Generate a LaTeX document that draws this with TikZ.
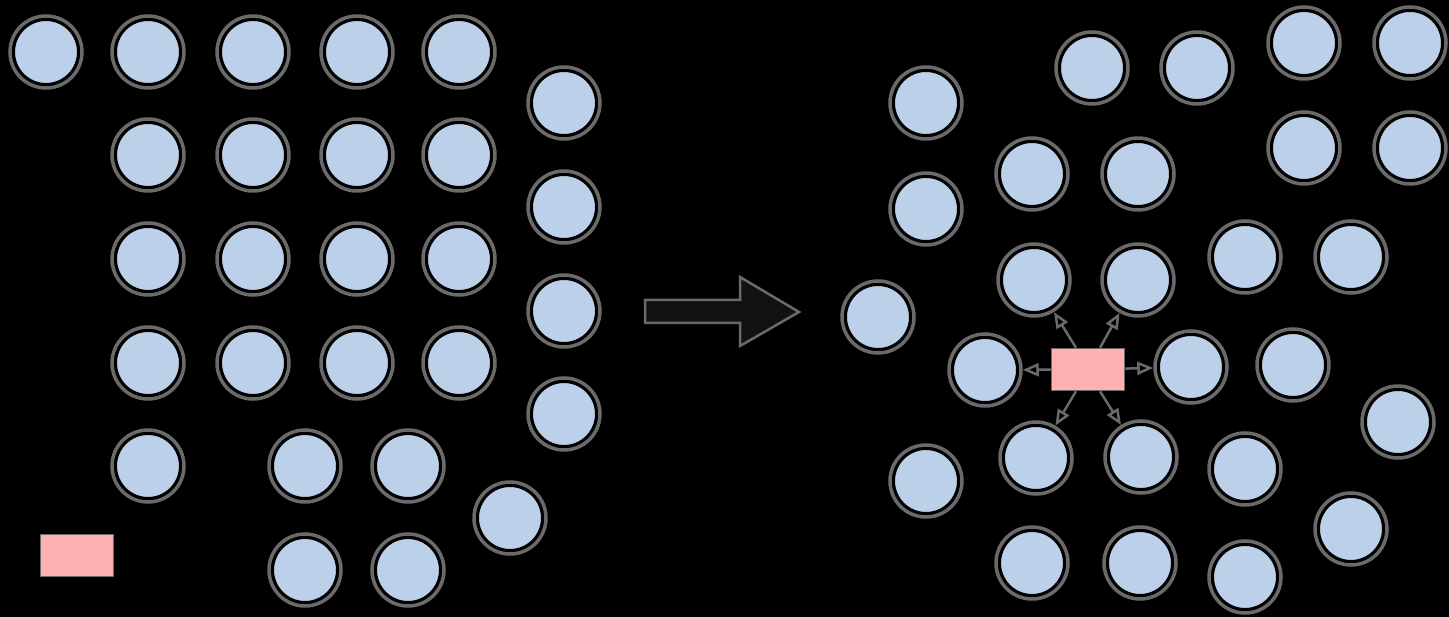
\documentclass[tikz,border=0pt]{standalone}
\usetikzlibrary{arrows.meta}
\definecolor{ballblue}{HTML}{BCD0EA}
\definecolor{ringgray}{HTML}{6A6A6A}
\definecolor{agentpink}{HTML}{FFB0B0}
\definecolor{arrowfill}{HTML}{111111}
\tikzset{
  ball/.style={circle, minimum size=72pt, inner sep=0pt, fill=ballblue, draw=ringgray, line width=3.5pt,
    path picture={\draw[black, line width=6pt] (path picture bounding box.center) circle (34pt);}},
  agent/.style={rectangle, minimum width=73pt, minimum height=42pt, inner sep=0pt, fill=agentpink, draw=ringgray, line width=1.5pt},
  link/.style={draw=ringgray, line width=2.5pt, -{Triangle[open, length=16pt, width=13pt]}},
  bigarrow/.style={fill=arrowfill, draw=ringgray, line width=2.5pt, line join=miter}
}
\begin{document}
\begin{tikzpicture}[x=1pt, y=-1pt]
\fill[black] (0,0) rectangle (1449,617);
\useasboundingbox (0,0) rectangle (1449,617);
% left side
\foreach \x [count=\i] in {46,148,253,357,459} \node[ball] (la\i) at (\x,52) {};
\foreach \y [count=\i] in {103,207,311,414} \node[ball] (lf\i) at (564,\y) {};
\foreach \x [count=\i] in {148,253,357,459} {
  \node[ball] (lb\i) at (\x,155) {};
  \node[ball] (lc\i) at (\x,259) {};
  \node[ball] (ld\i) at (\x,363) {};
}
\node[ball] (le1) at (148,466) {};
\node[ball] (le2) at (305,466) {};
\node[ball] (le3) at (408,466) {};
\node[ball] (le4) at (510,518) {};
\node[ball] (lg1) at (305,570) {};
\node[ball] (lg2) at (408,570) {};
\node[agent] (lagent) at (77,555.5) {};
% big arrow
\draw[bigarrow] (645,300) -- (740,300) -- (740,277) -- (799,312) -- (740,346) -- (740,323) -- (645,323) -- cycle;
% right side
\node[ball] (r1) at (1092,68) {};
\node[ball] (r2) at (1197,68) {};
\node[ball] (r3) at (1304,43) {};
\node[ball] (r4) at (1410,43) {};
\node[ball] (r5) at (926,103) {};
\node[ball] (r6) at (926,209) {};
\node[ball] (r7) at (1032,174) {};
\node[ball] (r8) at (1138,174) {};
\node[ball] (r9) at (1304,148) {};
\node[ball] (r10) at (1410,148) {};
\node[ball] (r11) at (1034,280) {};
\node[ball] (r12) at (1138,280) {};
\node[ball] (r13) at (1245,257) {};
\node[ball] (r14) at (1351,257) {};
\node[ball] (r15) at (878,317) {};
\node[ball] (r16) at (985,370) {};
\node[ball] (r17) at (1191,367) {};
\node[ball] (r18) at (1293,365) {};
\node[ball] (r19) at (1398,422) {};
\node[ball] (r20) at (1036,458) {};
\node[ball] (r21) at (1141,457) {};
\node[ball] (r22) at (1245,469) {};
\node[ball] (r23) at (926,481) {};
\node[ball] (r24) at (1351,529) {};
\node[ball] (r25) at (1032,563) {};
\node[ball] (r26) at (1140,563) {};
\node[ball] (r27) at (1245,577) {};
\node[agent] (ragent) at (1088,369.5) {};
\draw[link] (ragent) -- (r16);
\draw[link] (ragent) -- (r17);
\draw[link] (ragent.north -| 1076,0) -- (r11);
\draw[link] (ragent.north -| 1100,0) -- (r12);
\draw[link] (ragent.south -| 1076,0) -- (r20);
\draw[link] (ragent.south -| 1100,0) -- (r21);
\end{tikzpicture}
\end{document}
